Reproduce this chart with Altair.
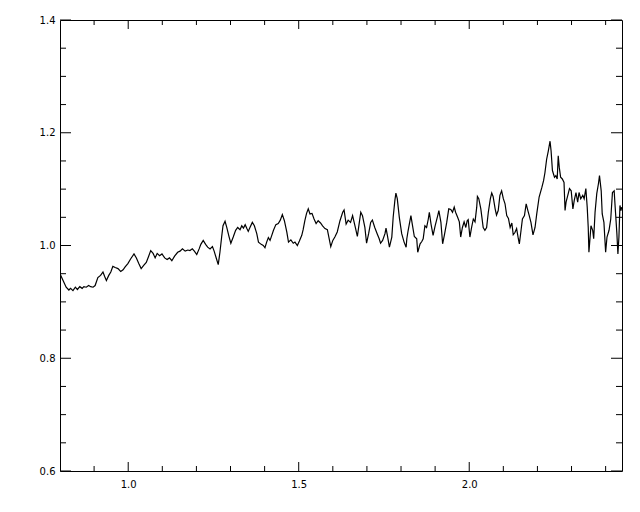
import altair as alt
import pandas as pd

wavelength = [
    0.800, 0.809, 0.818, 0.826, 0.831, 0.838, 0.845, 0.851, 0.858, 0.865, 0.870, 0.877, 0.884, 0.890,
    0.897, 0.903, 0.911, 0.919, 0.926, 0.931, 0.936, 0.943, 0.949, 0.955, 0.962, 0.970, 0.978, 0.985,
    0.991, 0.999, 1.007, 1.017, 1.024, 1.031, 1.038, 1.046, 1.053, 1.060, 1.066, 1.073, 1.079, 1.085,
    1.092, 1.099, 1.107, 1.114, 1.121, 1.128, 1.136,
    1.145, 1.152, 1.159, 1.167, 1.175, 1.181, 1.188, 1.194, 1.201, 1.208, 1.213, 1.220, 1.227, 1.233,
    1.240, 1.247, 1.252, 1.259, 1.264, 1.269, 1.274, 1.278, 1.284, 1.289, 1.296, 1.301, 1.308, 1.315,
    1.321, 1.328, 1.333, 1.338, 1.343, 1.348, 1.352, 1.357, 1.364, 1.370, 1.377, 1.382, 1.390, 1.396,
    1.401, 1.406, 1.411, 1.416, 1.421, 1.426, 1.433, 1.440, 1.446, 1.452, 1.458, 1.465, 1.470, 1.477,
    1.484,
    1.489, 1.496, 1.502, 1.509, 1.513, 1.518, 1.523, 1.528, 1.533, 1.539, 1.545, 1.551, 1.557, 1.564,
    1.570, 1.577, 1.584, 1.590, 1.594, 1.600, 1.606, 1.613, 1.621, 1.629, 1.633, 1.639, 1.645, 1.652,
    1.658, 1.665, 1.672, 1.677, 1.682, 1.687, 1.694, 1.699, 1.705, 1.711, 1.716, 1.723, 1.730, 1.736,
    1.740, 1.746, 1.753, 1.756, 1.760, 1.766, 1.773, 1.777, 1.782, 1.785, 1.789, 1.795, 1.802, 1.809,
    1.815,
    1.817, 1.821, 1.829, 1.833, 1.839, 1.846, 1.849, 1.856, 1.861, 1.865, 1.870, 1.875, 1.880, 1.883,
    1.888, 1.894, 1.900, 1.908, 1.911, 1.917, 1.922, 1.927, 1.934, 1.940, 1.946, 1.951, 1.956, 1.960,
    1.966, 1.971, 1.975, 1.980, 1.985, 1.990, 1.994, 1.997, 2.002, 2.007, 2.012, 2.017, 2.022, 2.024,
    2.028, 2.034, 2.041, 2.046, 2.051, 2.056, 2.062, 2.066, 2.070, 2.076, 2.080, 2.085, 2.090, 2.095,
    2.100, 2.105, 2.110, 2.115, 2.120, 2.125, 2.129,
    2.134, 2.139, 2.144, 2.147, 2.152, 2.156, 2.162, 2.167, 2.172, 2.176, 2.181, 2.187, 2.193, 2.198,
    2.205, 2.213, 2.218, 2.222, 2.227, 2.232, 2.237, 2.240, 2.244, 2.250, 2.254, 2.258, 2.261, 2.264,
    2.268, 2.273, 2.278, 2.281, 2.284, 2.289, 2.294, 2.299, 2.304, 2.308, 2.313, 2.318, 2.322, 2.327,
    2.333, 2.337, 2.342, 2.346, 2.349, 2.351, 2.357, 2.362, 2.365, 2.369, 2.374, 2.379, 2.382, 2.387,
    2.390, 2.395, 2.400, 2.404, 2.410, 2.415, 2.420, 2.425, 2.428, 2.433, 2.436, 2.439, 2.442, 2.445,
    2.447,
]

flux = [
    0.950, 0.938, 0.926, 0.921, 0.924, 0.920, 0.926, 0.922, 0.927, 0.924, 0.927, 0.926, 0.929, 0.927,
    0.926, 0.929, 0.943, 0.947, 0.953, 0.945, 0.938, 0.947, 0.953, 0.963, 0.961, 0.959, 0.954, 0.957,
    0.962, 0.968, 0.976, 0.985, 0.978, 0.968, 0.959, 0.965, 0.970, 0.981, 0.991, 0.986, 0.978, 0.986,
    0.982, 0.985, 0.978, 0.975, 0.978, 0.973, 0.981,
    0.988, 0.990, 0.994, 0.990, 0.992, 0.991, 0.994, 0.990, 0.984, 0.994, 1.002, 1.009, 1.002, 0.997,
    0.994, 0.998, 0.990, 0.976, 0.966, 0.988, 1.015, 1.035, 1.043, 1.032, 1.015, 1.004, 1.015, 1.027,
    1.032, 1.028, 1.035, 1.031, 1.037, 1.030, 1.025, 1.032, 1.041, 1.035, 1.021, 1.006, 1.002, 1.000,
    0.996, 1.006, 1.014, 1.009, 1.018, 1.027, 1.037, 1.039, 1.045, 1.055, 1.044, 1.024, 1.006, 1.010,
    1.004,
    1.006, 1.000, 1.008, 1.018, 1.028, 1.044, 1.057, 1.065, 1.056, 1.057, 1.047, 1.039, 1.044, 1.040,
    1.035, 1.030, 1.028, 1.010, 0.998, 1.009, 1.015, 1.024, 1.044, 1.059, 1.063, 1.038, 1.045, 1.041,
    1.053, 1.035, 1.016, 1.038, 1.059, 1.053, 1.032, 1.004, 1.021, 1.041, 1.045, 1.032, 1.021, 1.012,
    1.004, 1.009, 1.021, 1.031, 1.018, 0.997, 1.015, 1.050, 1.080, 1.093, 1.083, 1.050, 1.021, 1.006,
    0.997,
    1.012, 1.027, 1.053, 1.038, 1.016, 1.012, 0.988, 1.003, 1.007, 1.012, 1.035, 1.032, 1.047, 1.059,
    1.038, 1.018, 1.035, 1.054, 1.062, 1.041, 1.003, 1.018, 1.041, 1.065, 1.064, 1.059, 1.068, 1.059,
    1.050, 1.042, 1.015, 1.032, 1.042, 1.032, 1.044, 1.046, 1.015, 1.032, 1.047, 1.042, 1.068, 1.087,
    1.083, 1.065, 1.032, 1.027, 1.032, 1.059, 1.083, 1.093, 1.087, 1.065, 1.054, 1.062, 1.089, 1.097,
    1.083, 1.074, 1.053, 1.048, 1.032, 1.040, 1.019,
    1.023, 1.030, 1.012, 1.003, 1.027, 1.047, 1.053, 1.074, 1.062, 1.053, 1.041, 1.019, 1.032, 1.056,
    1.086, 1.103, 1.115, 1.129, 1.153, 1.168, 1.185, 1.168, 1.133, 1.121, 1.124, 1.118, 1.159, 1.139,
    1.121, 1.118, 1.112, 1.062, 1.077, 1.089, 1.101, 1.097, 1.065, 1.080, 1.094, 1.077, 1.094, 1.083,
    1.089, 1.083, 1.101, 1.068, 1.032, 0.988, 1.035, 1.027, 1.012, 1.059, 1.092, 1.110, 1.124, 1.097,
    1.056, 1.041, 0.988, 1.015, 1.027, 1.047, 1.094, 1.097, 1.068, 1.021, 0.985, 1.015, 1.071, 1.062,
    1.068,
]

x_major = [1.0, 1.5, 2.0]
x_minor = [0.9, 1.1, 1.2, 1.3, 1.4, 1.6, 1.7, 1.8, 1.9, 2.1, 2.2, 2.3, 2.4]
y_major = [0.6, 0.8, 1.0, 1.2, 1.4]
y_minor = [0.65, 0.7, 0.75, 0.85, 0.9, 0.95, 1.05, 1.1, 1.15, 1.25, 1.3, 1.35]

W, H = 562, 451
FONT = "DejaVu Sans"

xs = alt.Scale(domain=[0.8, 2.448], nice=False, zero=False)
ys = alt.Scale(domain=[0.6, 1.4], nice=False, zero=False)

x_axis = alt.Axis(values=x_major, format=".1f", ticks=False, tickSize=0, labelPadding=8,
                  domain=False, grid=False, labelFont=FONT, labelFontSize=10,
                  labelColor="black", title=None)
y_axis = alt.Axis(values=y_major, format=".1f", ticks=False, tickSize=0, labelPadding=5,
                  domain=False, grid=False, labelFont=FONT, labelFontSize=10,
                  labelColor="black", title=None)

df = pd.DataFrame({"wavelength": wavelength, "flux": flux})

line = alt.Chart(df).mark_line(color="black", strokeWidth=1.2, clip=True).encode(
    x=alt.X("wavelength:Q", scale=xs, axis=x_axis),
    y=alt.Y("flux:Q", scale=ys, axis=y_axis),
)


def xticks(vals, length):
    d = pd.DataFrame({"v": vals})
    bottom = alt.Chart(d).mark_rule(color="black", strokeWidth=1).encode(
        x=alt.X("v:Q", scale=xs, axis=x_axis), y=alt.value(H), y2=alt.value(H - length))
    top = alt.Chart(d).mark_rule(color="black", strokeWidth=1).encode(
        x=alt.X("v:Q", scale=xs, axis=x_axis), y=alt.value(0), y2=alt.value(length))
    return [bottom, top]


def yticks(vals, length):
    d = pd.DataFrame({"v": vals})
    left = alt.Chart(d).mark_rule(color="black", strokeWidth=1).encode(
        y=alt.Y("v:Q", scale=ys, axis=y_axis), x=alt.value(0), x2=alt.value(length))
    right = alt.Chart(d).mark_rule(color="black", strokeWidth=1).encode(
        y=alt.Y("v:Q", scale=ys, axis=y_axis), x=alt.value(W), x2=alt.value(W - length))
    return [left, right]


layers = [line] + xticks(x_major, 9) + xticks(x_minor, 5) + yticks(y_major, 11) + yticks(y_minor, 6)

chart = alt.layer(*layers).properties(
    width=W, height=H,
    padding={"left": 52, "top": 12, "right": 10, "bottom": 30},
    autosize=alt.AutoSizeParams(type="none"),
    background="white",
).configure_view(stroke="black", strokeWidth=1)

chart.save("out.html", embed_options={"renderer": "svg", "actions": False})
